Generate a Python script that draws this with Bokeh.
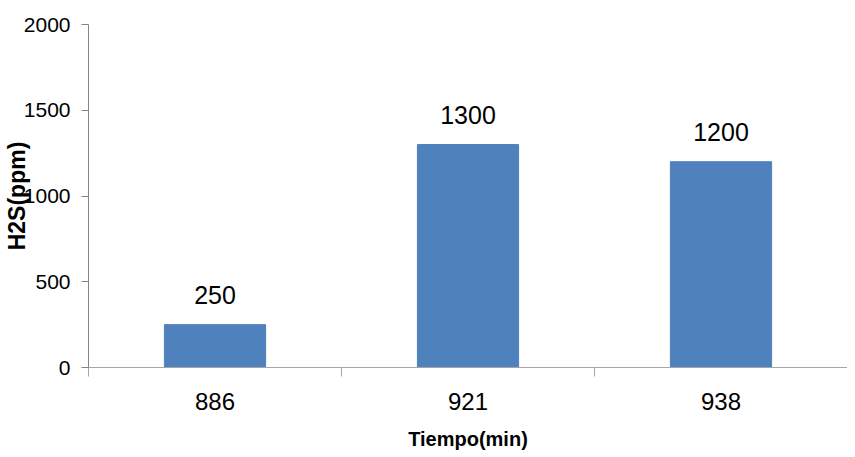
from bokeh.plotting import figure
from bokeh.models import (FactorRange, Range1d, ColumnDataSource, LabelSet,
                          LinearAxis, FixedTicker, CategoricalAxis)
from bokeh.core.properties import value
from bokeh.embed import file_html
from bokeh.resources import INLINE

# Data
times = ["886", "921", "938"]
h2s = [250, 1300, 1200]
y_ticks = [0, 500, 1000, 1500, 2000]
x_title = "Tiempo(min)"
y_title = "H2S(ppm)"

FONT = "'Liberation Sans', Arial, sans-serif"
BAR = "#4f81bd"

src = ColumnDataSource(dict(t=times, v=h2s, lbl=[str(v) for v in h2s]))

p = figure(width=847, height=455,
           x_range=FactorRange(factors=times, range_padding=0),
           y_range=Range1d(0, y_ticks[-1]),
           output_backend="svg", toolbar_location=None,
           x_axis_location=None,
           min_border_left=82, min_border_top=24,
           min_border_right=0, min_border_bottom=88)
p.outline_line_color = None
p.xgrid.grid_line_color = None
p.ygrid.grid_line_color = None
p.background_fill_color = "white"
p.border_fill_color = "white"

p.vbar(x="t", top="v", width=0.4, source=src, fill_color=BAR, line_color=BAR)

labels = LabelSet(x="t", y="v", text="lbl", source=src, y_offset=21,
                  text_align="center", text_baseline="alphabetic",
                  text_font=value(FONT), text_font_size="25px", text_color="black")
p.add_layout(labels)

# boundary tick axis (ticks between categories)
bounds = list(range(len(times) + 1))
bx = LinearAxis(ticker=FixedTicker(ticks=bounds),
                major_label_overrides={b: "" for b in bounds},
                major_label_text_font_size="10px", major_label_standoff=0,
                major_tick_in=0, major_tick_out=9,
                axis_line_color="#a6a6a6", major_tick_line_color="#a6a6a6",
                minor_tick_line_color=None)
p.add_layout(bx, "below")

cx = CategoricalAxis(major_tick_line_color=None, axis_line_color=None,
                     major_label_text_font=FONT, major_label_text_font_size="24px",
                     major_label_text_color="black", major_label_standoff=10,
                     axis_label=x_title, axis_label_text_font=FONT,
                     axis_label_text_font_style="bold", axis_label_text_font_size="20px",
                     axis_label_text_color="black", axis_label_standoff=15)
p.add_layout(cx, "below")

ya = p.yaxis[0]
ya.ticker = FixedTicker(ticks=y_ticks)
ya.major_tick_in = 0
ya.major_tick_out = 7
ya.minor_tick_line_color = None
ya.axis_line_color = "#868686"
ya.major_tick_line_color = "#868686"
ya.major_label_text_font = FONT
ya.major_label_text_font_size = "21px"
ya.major_label_text_color = "black"
ya.major_label_standoff = 11
ya.axis_label = y_title
ya.axis_label_text_font = FONT
ya.axis_label_text_font_style = "bold"
ya.axis_label_text_font_size = "23px"
ya.axis_label_text_color = "black"
ya.axis_label_standoff = -9

open("out.html", "w").write(file_html(p, INLINE))
